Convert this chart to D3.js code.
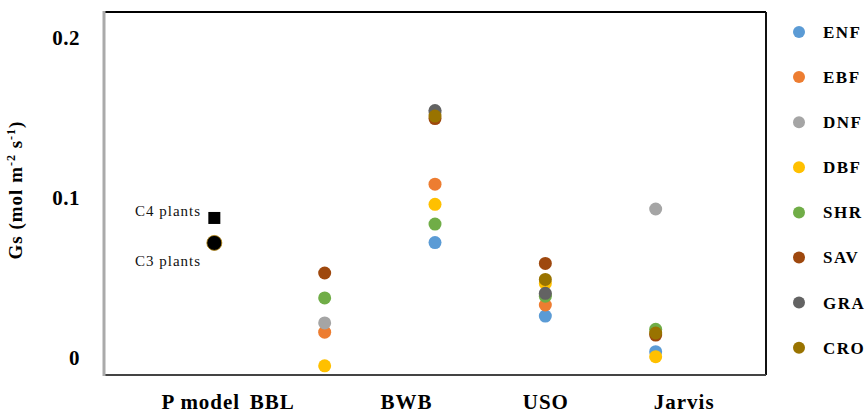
<!DOCTYPE html>
<html>
<head>
<meta charset="utf-8">
<script src="https://cdn.jsdelivr.net/npm/d3@7"></script>
<style>
  html, body { margin: 0; padding: 0; background: #fff; }
  svg { display: block; }
  text { font-family: "Liberation Serif", "Times New Roman", serif; }
</style>
</head>
<body>
<svg id="chart" width="868" height="413"></svg>
<script>
// Stomatal conductance models on the x axis
const models = ["P model", "BBL", "BWB", "USO", "Jarvis"];
// Plant functional types (legend order)
const pfts = ["ENF", "EBF", "DNF", "DBF", "SHR", "SAV", "GRA", "CRO"];
const pftColors = ["#5B9BD5", "#ED7D31", "#A5A5A5", "#FFC000", "#70AD47", "#9E480E", "#636363", "#997300"];

// Gs per PFT for BBL, BWB, USO, Jarvis (null = not shown)
const gsENF = [null, 0.0715, 0.0256, 0.0033];
const gsEBF = [0.0155, 0.1080, 0.0325, null];
const gsDNF = [0.0213, 0.1530, 0.0390, 0.0925];
const gsDBF = [-0.0055, 0.0954, 0.0460, 0.0002];
const gsSHR = [0.0369, 0.0831, 0.0380, 0.0173];
const gsSAV = [0.0525, 0.1490, 0.0585, 0.0137];
const gsGRA = [null, 0.1540, 0.0398, null];
const gsCRO = [null, 0.1506, 0.0485, 0.0150];
const pftValues = [gsENF, gsEBF, gsDNF, gsDBF, gsSHR, gsSAV, gsGRA, gsCRO];

// P model reference values
const pModelLabels = ["C4 plants", "C3 plants"];
const pModelC4 = 0.0869;
const pModelC3 = 0.0713;

// Y axis ticks
const yTicks = [0, 0.1, 0.2];
const yTickLabels = ["0", "0.1", "0.2"];

const svg = d3.select("#chart");
const plot = { left: 104, right: 766, top: 12, bottom: 375 };

const x = d3.scalePoint().domain(models).range([plot.left, plot.right]).padding(1);
const y = d3.scaleLinear().domain([0, 0.2]).range([357, 37]);
const color = d3.scaleOrdinal().domain(pfts).range(pftColors);

// Frame
svg.append("line").attr("x1", plot.left).attr("x2", plot.right).attr("y1", plot.top).attr("y2", plot.top)
  .attr("stroke", "#000").attr("stroke-width", 2);
svg.append("line").attr("x1", plot.right).attr("x2", plot.right).attr("y1", plot.top).attr("y2", plot.bottom)
  .attr("stroke", "#111").attr("stroke-width", 2);
svg.append("line").attr("x1", plot.left).attr("x2", plot.right).attr("y1", plot.bottom).attr("y2", plot.bottom)
  .attr("stroke", "#444").attr("stroke-width", 2);
svg.append("line").attr("x1", plot.left).attr("x2", plot.left).attr("y1", plot.top - 1).attr("y2", plot.bottom + 1)
  .attr("stroke", "#aaa").attr("stroke-width", 3);

// Y axis tick labels
const yAxis = d3.axisLeft(y).tickValues(yTicks).tickFormat((d, i) => yTickLabels[i]).tickSize(0).tickPadding(0);
const yg = svg.append("g").attr("transform", "translate(80,0)").call(yAxis);
yg.select(".domain").remove();
yg.selectAll("text")
  .attr("font-family", "Liberation Serif, serif")
  .attr("font-weight", "bold")
  .attr("font-size", 21)
  .attr("letter-spacing", 0.5)
  .attr("fill", "#000")
  .attr("dy", "0.35em");

// Y axis title
const yTitle = svg.append("text")
  .attr("transform", "translate(22,190) rotate(-90)")
  .attr("text-anchor", "middle")
  .attr("font-weight", "bold")
  .attr("font-size", 19)
  .attr("letter-spacing", 1)
  .attr("fill", "#000");
yTitle.append("tspan").text("Gs (mol m");
yTitle.append("tspan").attr("dy", -7).attr("font-size", 12).text("-2");
yTitle.append("tspan").attr("dy", 7).text(" s");
yTitle.append("tspan").attr("dy", -7).attr("font-size", 12).text("-1");
yTitle.append("tspan").attr("dy", 7).text(")");

// X axis labels
const xLabelShift = [-14, -53, -29, 0, 28];
const xAxis = d3.axisBottom(x).tickSize(0).tickPadding(0);
const xg = svg.append("g").attr("transform", "translate(0,402)").call(xAxis);
xg.select(".domain").remove();
xg.selectAll("text")
  .attr("font-family", "Liberation Serif, serif")
  .attr("font-weight", "bold")
  .attr("font-size", 21)
  .attr("letter-spacing", 1)
  .attr("fill", "#000")
  .attr("dy", "0.35em")
  .attr("dx", (d, i) => xLabelShift[i]);

// PFT points for each model (later PFTs drawn on top)
const fitted = models.slice(1);
pfts.forEach((p, pi) => {
  const pts = pftValues[pi].map((v, i) => ({ model: fitted[i], v })).filter(d => d.v !== null);
  svg.append("g").selectAll("circle").data(pts).join("circle")
    .attr("cx", d => x(d.model))
    .attr("cy", d => y(d.v))
    .attr("r", 6.5)
    .attr("fill", color(p));
});

// P model: C4 square and C3 circle
const px = x("P model");
svg.append("rect")
  .attr("x", px - 6).attr("y", y(pModelC4) - 6)
  .attr("width", 12).attr("height", 12)
  .attr("fill", "#000");
svg.append("circle")
  .attr("cx", px).attr("cy", y(pModelC3)).attr("r", 7.5)
  .attr("fill", "#000").attr("stroke", "#b8860b").attr("stroke-width", 0.8);

svg.append("text").attr("x", 135).attr("y", y(pModelC4) + 1)
  .attr("font-size", 15).attr("letter-spacing", 1).attr("fill", "#111").attr("dy", "-0.2em").text(pModelLabels[0]);
svg.append("text").attr("x", 135).attr("y", y(pModelC3) + 23)
  .attr("font-size", 15).attr("letter-spacing", 1).attr("fill", "#111").text(pModelLabels[1]);

// Legend
const legend = svg.append("g").selectAll("g").data(pfts).join("g")
  .attr("transform", (d, i) => `translate(799,${32 + i * 45.1})`);
legend.append("circle").attr("r", 6).attr("fill", d => color(d));
legend.append("text").attr("x", 24).attr("dy", "0.35em")
  .attr("font-weight", "bold").attr("font-size", 17).attr("letter-spacing", 1.5).attr("fill", "#000").text(d => d);
</script>
</body>
</html>
